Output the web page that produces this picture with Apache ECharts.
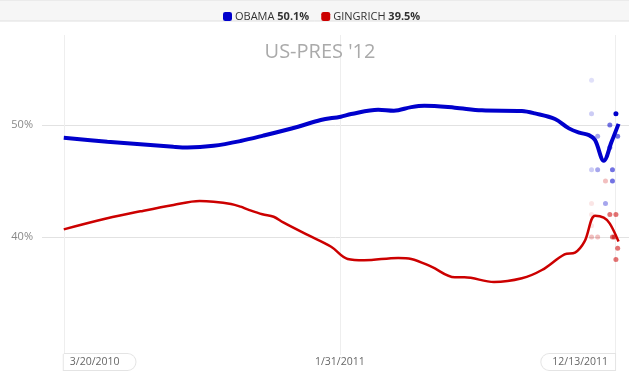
<!DOCTYPE html>
<html>
<head>
<meta charset="utf-8">
<script src="https://cdn.jsdelivr.net/npm/echarts@6/dist/echarts.min.js"></script>
<style>html,body{margin:0;padding:0;background:#fff;}#c{width:629px;height:384px;}</style>
</head>
<body>
<div id="c"></div>
<script>
// ---- data ----
const candidates = ['OBAMA', 'GINGRICH'];
const latestPct = [50.1, 39.5];
const xTickDates = ['2010-03-20', '2011-01-31', '2011-12-13'];
const xTickLabels = ['3/20/2010', '1/31/2011', '12/13/2011'];
const yTickValues = [40, 50];

const obamaTrend = [
  ['2010-03-20', 48.87], ['2010-05-09', 48.51], ['2010-06-16', 48.28], ['2010-07-24', 48.06],
  ['2010-08-09', 48.0], ['2010-09-08', 48.15], ['2010-10-09', 48.57], ['2010-11-04', 49.05],
  ['2010-12-14', 49.85], ['2011-01-09', 50.45], ['2011-02-01', 50.74], ['2011-02-13', 50.98],
  ['2011-03-16', 51.37], ['2011-04-03', 51.28], ['2011-04-23', 51.6], ['2011-05-08', 51.72],
  ['2011-06-12', 51.55], ['2011-07-13', 51.31], ['2011-08-28', 51.25], ['2011-09-12', 51.04],
  ['2011-10-05', 50.54], ['2011-10-21', 49.7], ['2011-11-02', 49.32], ['2011-11-13', 49.1],
  ['2011-11-20', 48.66], ['2011-11-30', 46.8], ['2011-12-09', 48.5], ['2011-12-17', 50.1]
];
const gingrichTrend = [
  ['2010-03-20', 40.68], ['2010-05-09', 41.67], ['2010-06-16', 42.29], ['2010-07-24', 42.86],
  ['2010-08-23', 43.21], ['2010-09-08', 43.15], ['2010-09-28', 42.95], ['2010-10-09', 42.71],
  ['2010-10-17', 42.47], ['2010-11-03', 42.03], ['2010-11-16', 41.81], ['2010-11-27', 41.3],
  ['2010-12-25', 40.18], ['2011-01-21', 39.13], ['2011-02-09', 38.04], ['2011-02-28', 37.92],
  ['2011-04-08', 38.13], ['2011-04-23', 38.04], ['2011-05-16', 37.35], ['2011-06-12', 36.4],
  ['2011-06-23', 36.4], ['2011-07-27', 35.98], ['2011-08-28', 36.31], ['2011-09-20', 37.05],
  ['2011-10-16', 38.45], ['2011-10-28', 38.6], ['2011-11-08', 39.6], ['2011-11-20', 41.9],
  ['2011-11-30', 41.73], ['2011-12-07', 41.2], ['2011-12-17', 39.6]
];

const obamaPollsFaint = [['2011-11-16', 54]];
const obamaPollsLight = [['2011-11-16', 51], ['2011-11-16', 46]];
const obamaPollsLightMid = [['2011-11-23', 49], ['2011-11-23', 46], ['2011-12-02', 43]];
const obamaPollsMid = [['2011-12-07', 50], ['2011-12-16', 49], ['2011-12-10', 46], ['2011-12-10', 45], ['2011-12-07', 48]];
const obamaPollsDark = [['2011-12-14', 51]];

const gingrichPollsFaint = [['2011-11-16', 43], ['2011-11-16', 42], ['2011-11-16', 41]];
const gingrichPollsLight = [['2011-11-16', 40], ['2011-11-23', 40], ['2011-12-02', 45]];
const gingrichPollsMid = [['2011-12-07', 42], ['2011-12-14', 42], ['2011-12-10', 40], ['2011-12-12', 40], ['2011-12-16', 39], ['2011-12-14', 38]];

// ---- chart ----
const BLUE = '#0000cc', RED = '#cc0000';
const FONT = '"Open Sans", "DejaVu Sans", sans-serif';
function localTime(s) { const p = s.split('-').map(Number); return new Date(p[0], p[1] - 1, p[2]).getTime(); }
function toXY(arr) { return arr.map(function (d) { return [localTime(d[0]), d[1]]; }); }
const xTickTimes = xTickDates.map(localTime);

function pollSeries(name, data, color, opacity) {
  return {
    name: name, type: 'scatter', data: toXY(data), symbolSize: 5, z: 2, silent: true,
    itemStyle: { color: color, opacity: opacity }
  };
}

const chart = echarts.init(document.getElementById('c'), null, { renderer: 'canvas' });
chart.setOption({
  animation: false,
  backgroundColor: '#fff',
  graphic: [{
    type: 'rect', z: -10, silent: true,
    shape: { x: -1, y: 0, width: 631, height: 21 },
    style: { fill: '#f6f6f6', stroke: '#e0e0e0', lineWidth: 1 }
  }],
  title: {
    text: "US-PRES '12", left: 315, textAlign: 'center', top: 37,
    textStyle: { color: '#aaaaaa', fontSize: 20, fontWeight: 'normal', fontFamily: FONT }
  },
  legend: {
    data: candidates, top: 6, left: 218, icon: 'roundRect',
    itemWidth: 9, itemHeight: 9, itemGap: 12,
    formatter: function (name) {
      const i = candidates.indexOf(name);
      return '{n|' + name + '} {b|' + latestPct[i].toFixed(1) + '%}';
    },
    textStyle: {
      fontFamily: FONT, fontSize: 11, color: '#333', padding: [0, 0, 0, -2],
      rich: {
        n: { fontFamily: FONT, fontSize: 11, color: '#333' },
        b: { fontFamily: FONT, fontSize: 11, color: '#333', fontWeight: 'bold' }
      }
    }
  },
  grid: { left: 42, right: 0, top: 35, bottom: 29, containLabel: false },
  xAxis: {
    type: 'value', min: localTime('2010-02-23'), max: localTime('2011-12-29'),
    axisLine: { show: false },
    axisTick: { show: false, customValues: xTickTimes },
    splitLine: { show: true, lineStyle: { color: '#eeeeee', width: 1 } },
    axisLabel: {
      customValues: xTickTimes, margin: 1, showMinLabel: true, showMaxLabel: true,
      alignMinLabel: 'left', alignMaxLabel: 'right', hideOverlap: false,
      formatter: function (v) {
        let idx = 0, best = Infinity;
        xTickTimes.forEach(function (t, i) { const d = Math.abs(t - v); if (d < best) { best = d; idx = i; } });
        const key = idx === 0 ? 'bl' : (idx === xTickTimes.length - 1 ? 'br' : 'pl');
        return '{' + key + '|' + xTickLabels[idx] + '}';
      },
      rich: {
        bl: { fontFamily: FONT, fontSize: 10.5, lineHeight: 12, color: '#666', padding: [3, 16, 2, 6],
              borderColor: '#e4e4e4', borderWidth: 1, borderRadius: [0, 8, 8, 0], backgroundColor: '#fff' },
        br: { fontFamily: FONT, fontSize: 10.5, lineHeight: 12, color: '#666', padding: [3, 7, 2, 11],
              borderColor: '#e4e4e4', borderWidth: 1, borderRadius: [8, 0, 0, 8], backgroundColor: '#fff' },
        pl: { fontFamily: FONT, fontSize: 10.5, lineHeight: 12, color: '#666', padding: [3, 0, 2, 0] }
      }
    }
  },
  yAxis: {
    type: 'value', min: 29.46, max: 58.04,
    axisLine: { show: false },
    axisTick: { show: false, customValues: yTickValues },
    splitLine: { show: true, lineStyle: { color: '#e2e2e2', width: 1 } },
    axisLabel: {
      customValues: yTickValues, margin: 9, color: '#888', fontSize: 11, fontFamily: FONT,
      formatter: '{value}%'
    }
  },
  series: [
    pollSeries('op1', obamaPollsFaint, BLUE, 0.12),
    pollSeries('op2', obamaPollsLight, BLUE, 0.2),
    pollSeries('op3', obamaPollsLightMid, BLUE, 0.35),
    pollSeries('op4', obamaPollsMid, BLUE, 0.55),
    pollSeries('op5', obamaPollsDark, BLUE, 1),
    pollSeries('gp1', gingrichPollsFaint, RED, 0.1),
    pollSeries('gp2', gingrichPollsLight, RED, 0.25),
    pollSeries('gp3', gingrichPollsMid, RED, 0.55),
    {
      name: 'OBAMA', type: 'line', data: toXY(obamaTrend), smooth: 0.35, showSymbol: false, z: 4,
      itemStyle: { color: BLUE }, lineStyle: { color: BLUE, width: 4 }
    },
    {
      name: 'GINGRICH', type: 'line', data: toXY(gingrichTrend), smooth: 0.35, showSymbol: false, z: 4,
      itemStyle: { color: RED }, lineStyle: { color: RED, width: 2.5 }
    }
  ]
});
</script>
</body>
</html>
